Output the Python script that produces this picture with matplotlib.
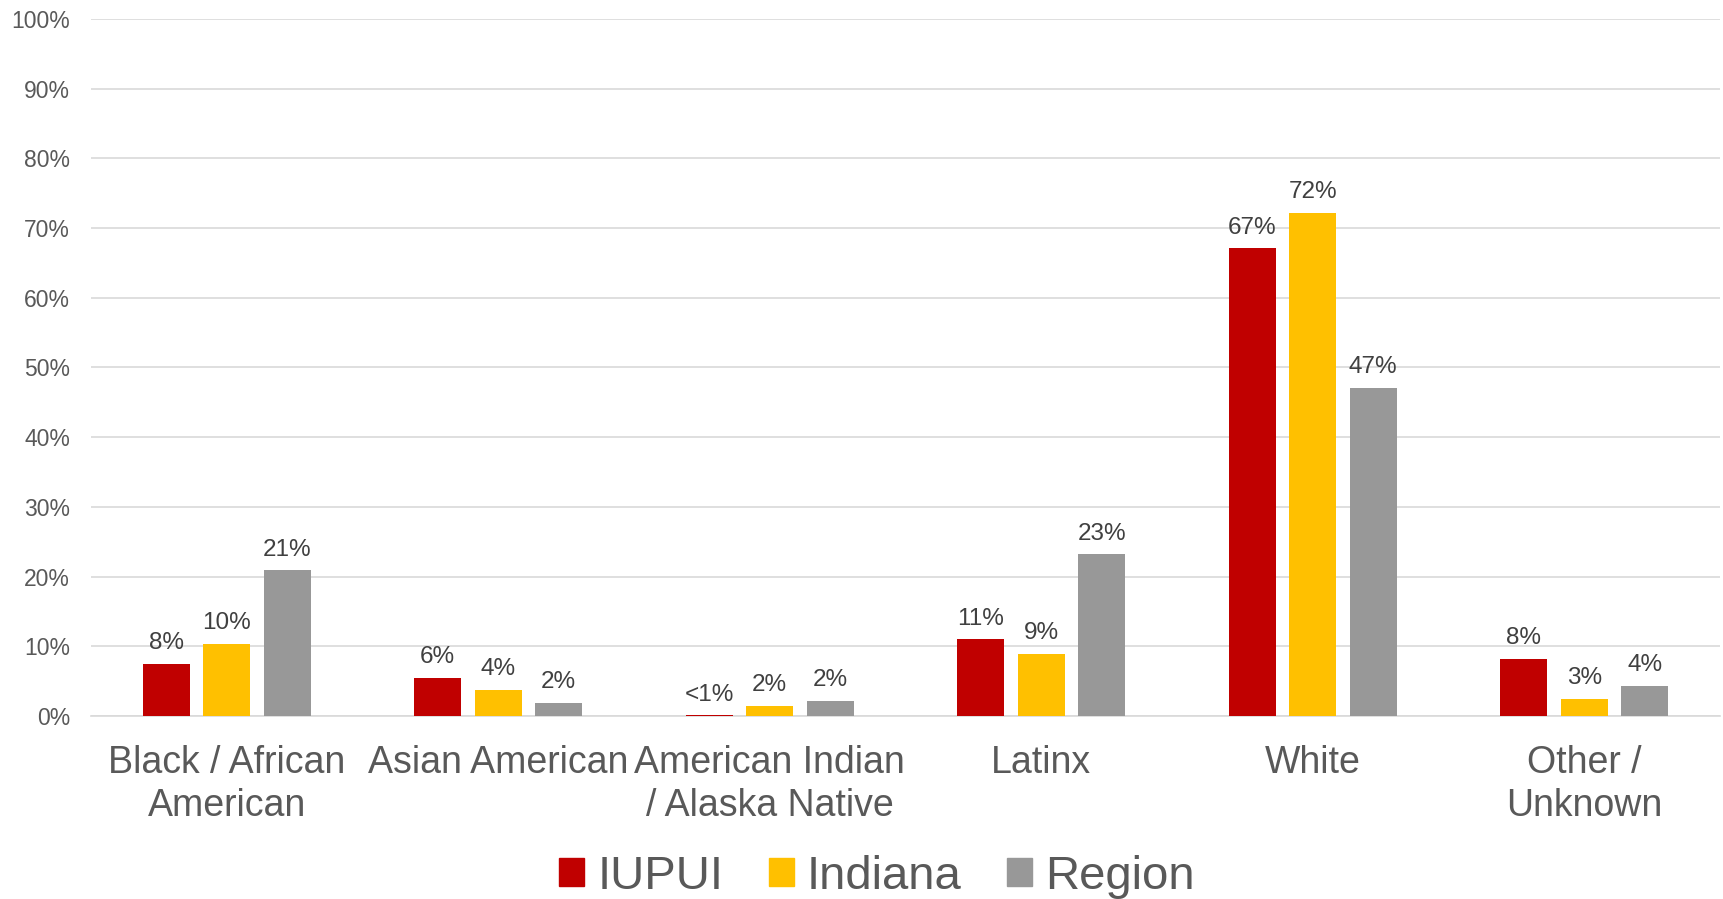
import matplotlib
matplotlib.use('Agg')
import matplotlib.pyplot as plt
import numpy as np
from matplotlib.patches import Patch
from matplotlib.ticker import PercentFormatter

categories = ['Black / African\nAmerican', 'Asian American', 'American Indian\n/ Alaska Native',
              'Latinx', 'White', 'Other /\nUnknown']
series_names = ['IUPUI', 'Indiana', 'Region']

iupui = [7.5, 5.5, 0.1, 11.0, 67.1, 8.2]
indiana = [10.4, 3.8, 1.5, 8.9, 72.2, 2.5]
region = [20.9, 1.9, 2.2, 23.2, 47.1, 4.3]

iupui_labels = ['8%', '6%', '<1%', '11%', '67%', '8%']
indiana_labels = ['10%', '4%', '2%', '9%', '72%', '3%']
region_labels = ['21%', '2%', '2%', '23%', '47%', '4%']

colors = ['#C00000', '#FFC000', '#989898']

plt.rcParams['font.family'] = ['Liberation Sans', 'DejaVu Sans']

W, H = 1723, 899
fig = plt.figure(figsize=(W / 100, H / 100), dpi=100)
ax = fig.add_axes([91 / W, 1 - 716 / H, (1720 - 91) / W, (716 - 19) / H])

x = np.arange(len(categories))
width = 0.173
step = 0.223

for i, (vals, labs) in enumerate(zip([iupui, indiana, region],
                                     [iupui_labels, indiana_labels, region_labels])):
    pos = x + (i - 1) * step
    ax.bar(pos, vals, width, color=colors[i], zorder=3)
    for px, v, lab in zip(pos, vals, labs):
        ax.annotate(lab, (px, v), xytext=(0, 7), textcoords='offset points',
                    ha='center', va='bottom', fontsize=17.5, color='#404040')

ax.set_xlim(-0.5, len(categories) - 0.5)
ax.set_ylim(0, 100)
ax.set_yticks(np.arange(0, 101, 10))
ax.yaxis.set_major_formatter(PercentFormatter(decimals=0))
ax.grid(axis='y', color='#d9d9d9', linewidth=1.2, zorder=0)

ax.set_xticks(x)
ax.set_xticklabels(categories, fontsize=27, color='#595959', linespacing=1.24)
ax.tick_params(axis='x', length=0, pad=21)
ax.tick_params(axis='y', length=0, pad=15, labelsize=16.5, labelcolor='#595959')

for s in ['top', 'right', 'left']:
    ax.spines[s].set_visible(False)
ax.spines['bottom'].set_color('#d9d9d9')
ax.spines['bottom'].set_linewidth(1.2)

handles = [Patch(color=c) for c in colors]
fig.legend(handles, series_names, loc='center', bbox_to_anchor=(0.509, 0.025),
           ncol=3, frameon=False, labelcolor='#595959', fontsize=34,
           handlelength=0.53, handleheight=0.53, handletextpad=0.28,
           columnspacing=0.96, borderaxespad=0, borderpad=0)

fig.savefig('out.png', dpi=100)
